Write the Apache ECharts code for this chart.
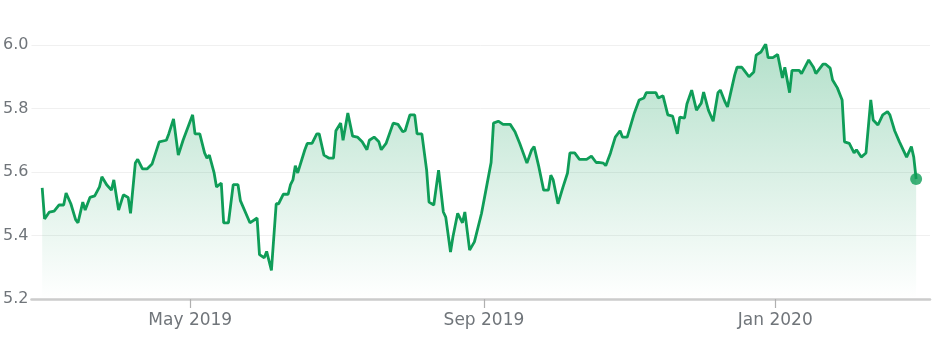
<!DOCTYPE html>
<html>
<head>
<meta charset="utf-8">
<script src="https://cdn.jsdelivr.net/npm/echarts@6/dist/echarts.min.js"></script>
<style>
html,body{margin:0;padding:0;background:#fff;}
#chart{width:939px;height:347px;}
</style>
</head>
<body>
<div id="chart"></div>
<script>
// Day offsets counted from 1 Mar 2019
const dayOffsets = [-1,0,2,4,6,8,9,11,13,14,16,17,19,21,23,24,26,28,29,31,33,35,36,38,39,41,43,45,48,51,52,54,56,58,62,63,65,67,68,69,71,72,74,75,77,79,81,82,86,89,90,92,93,95,97,98,100,102,103,104,105,106,109,110,112,114,115,117,119,121,122,124,125,127,129,131,133,135,136,138,140,141,143,146,148,150,151,153,155,156,158,160,161,163,165,167,168,170,171,173,175,176,178,180,181,183,185,187,188,190,192,195,197,199,202,204,205,207,209,211,212,213,215,217,219,220,222,224,227,229,231,232,234,235,237,239,241,242,244,247,249,251,252,254,256,257,259,261,263,265,266,268,269,271,273,275,276,278,280,282,283,285,286,289,290,292,293,295,297,298,300,302,303,305,307,309,310,312,313,316,317,320,322,323,326,327,329,330,332,334,335,337,339,340,342,344,346,347,349,351,353,354,356,358,361,363,364,365];
const prices = [5.55,5.452,5.474,5.477,5.496,5.496,5.534,5.50,5.45,5.44,5.505,5.48,5.52,5.525,5.553,5.585,5.56,5.543,5.575,5.48,5.528,5.52,5.47,5.628,5.64,5.61,5.61,5.625,5.695,5.70,5.72,5.767,5.653,5.70,5.78,5.72,5.72,5.66,5.644,5.653,5.597,5.553,5.565,5.44,5.44,5.56,5.56,5.51,5.44,5.455,5.34,5.33,5.35,5.29,5.50,5.50,5.53,5.53,5.56,5.575,5.62,5.597,5.67,5.69,5.69,5.72,5.72,5.653,5.644,5.644,5.73,5.754,5.70,5.786,5.713,5.71,5.695,5.67,5.70,5.71,5.695,5.67,5.69,5.754,5.75,5.727,5.73,5.78,5.78,5.72,5.72,5.606,5.505,5.496,5.606,5.474,5.458,5.348,5.395,5.47,5.44,5.474,5.354,5.38,5.41,5.47,5.55,5.63,5.754,5.76,5.75,5.75,5.727,5.69,5.628,5.67,5.68,5.616,5.543,5.543,5.59,5.575,5.50,5.55,5.597,5.66,5.66,5.64,5.64,5.65,5.63,5.63,5.628,5.62,5.66,5.71,5.73,5.71,5.71,5.786,5.827,5.833,5.85,5.85,5.85,5.833,5.84,5.78,5.776,5.72,5.773,5.77,5.814,5.858,5.795,5.817,5.852,5.795,5.76,5.85,5.858,5.82,5.805,5.905,5.93,5.93,5.92,5.90,5.915,5.968,5.978,6.003,5.96,5.96,5.97,5.896,5.93,5.85,5.92,5.92,5.91,5.953,5.93,5.91,5.94,5.94,5.927,5.89,5.865,5.827,5.695,5.69,5.66,5.67,5.647,5.66,5.827,5.764,5.748,5.78,5.79,5.78,5.73,5.695,5.647,5.68,5.647,5.578];
const tickDates = ['2019-05-01','2019-09-01','2020-01-01'];
const tickLabels = ['May 2019','Sep 2019','Jan 2020'];
const yTicks = [5.2,5.4,5.6,5.8,6.0];

const DAY = 86400000;
const start = Date.UTC(2019, 2, 1);
const toTs = s => { const p = s.split('-').map(Number); return Date.UTC(p[0], p[1]-1, p[2]); };
const tickTs = tickDates.map(toTs);
const seriesData = dayOffsets.map((d, i) => [start + d * DAY, prices[i]]);
const last = seriesData[seriesData.length - 1];

const chart = echarts.init(document.getElementById('chart'), null, {renderer: 'canvas'});
const FONT = "'DejaVu Sans', Arial, sans-serif";
chart.setOption({
  animation: false,
  backgroundColor: '#fff',
  grid: {left: 30, right: 9, top: 45, bottom: 48, containLabel: false},
  xAxis: {
    type: 'value',
    min: start - 5.5 * DAY,
    max: start + 370.8 * DAY,
    axisLine: {show: true, lineStyle: {color: '#cccccc', width: 2.5}},
    axisTick: {show: true, customValues: tickTs, length: 9, lineStyle: {color: '#b0b0b0', width: 1.2}},
    axisLabel: {
      show: true,
      customValues: tickTs,
      margin: 13,
      color: '#70757a',
      fontSize: 17,
      fontFamily: FONT,
      formatter: v => { const i = tickTs.indexOf(v); return i >= 0 ? tickLabels[i] : ''; }
    },
    splitLine: {show: false}
  },
  yAxis: {
    type: 'value',
    min: yTicks[0],
    max: yTicks[yTicks.length - 1],
    interval: 0.2,
    axisLine: {show: false},
    axisTick: {show: false},
    axisLabel: {
      margin: 3,
      color: '#70757a',
      fontSize: 16,
      fontFamily: FONT,
      formatter: v => v.toFixed(1)
    },
    splitLine: {show: true, lineStyle: {color: '#f0f0f0', width: 1}}
  },
  series: [
    {
      type: 'line',
      data: seriesData,
      showSymbol: false,
      smooth: false,
      lineStyle: {color: '#0f9d58', width: 2.8},
      areaStyle: {
        origin: 'start',
        color: new echarts.graphic.LinearGradient(0, 0, 0, 1, [
          {offset: 0, color: 'rgba(15,157,88,0.45)'},
          {offset: 1, color: 'rgba(15,157,88,0.0)'}
        ])
      },
      z: 2
    },
    {
      type: 'scatter',
      data: [last],
      symbol: 'circle',
      symbolSize: 12,
      itemStyle: {color: '#0f9d58'},
      z: 3
    }
  ]
});
</script>
</body>
</html>
